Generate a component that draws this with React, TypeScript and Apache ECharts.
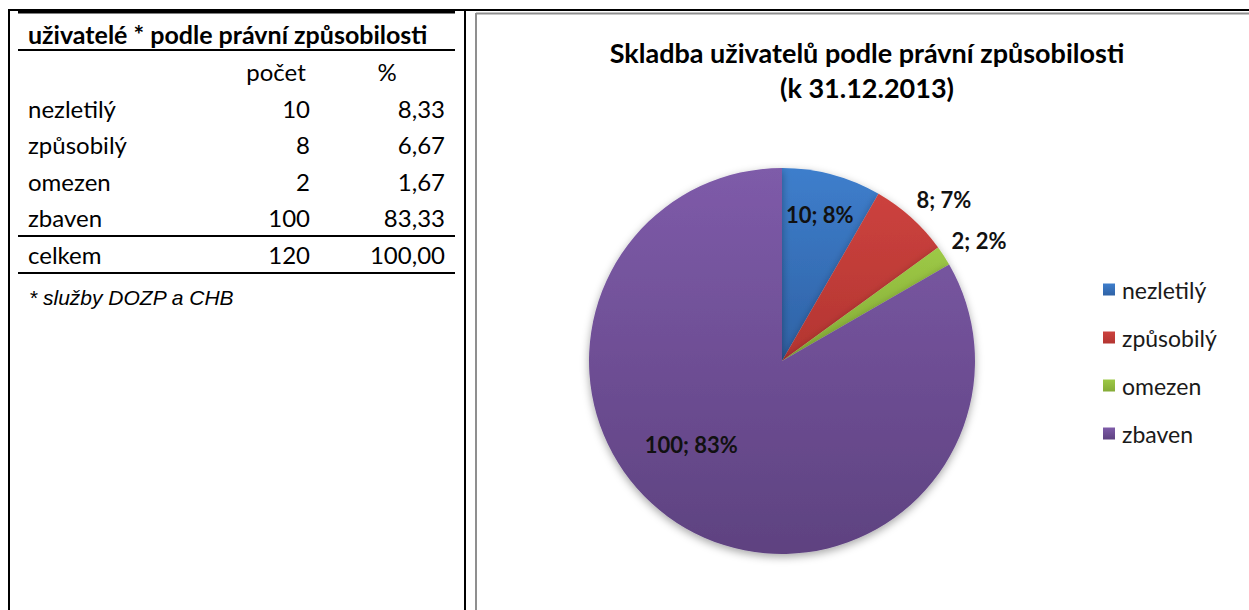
import React, { useEffect, useRef } from "react";
import * as echarts from "echarts";

const categories = ["nezletilý", "způsobilý", "omezen", "zbaven"];
const counts = [10, 8, 2, 100];
const percents = ["8,33", "6,67", "1,67", "83,33"];
const totalLabel = "celkem";
const totalCount = "120";
const totalPercent = "100,00";
const tableTitle = "uživatelé * podle právní způsobilosti";
const colHeaders = ["počet", "%"];
const footnote = "* služby DOZP a CHB";
const chartTitle = "Skladba uživatelů podle právní způsobilosti";
const chartSubtitle = "(k 31.12.2013)";

const colorsTop = ["#3E7ECC", "#CC423E", "#9DC946", "#7E5BA9"];
const colorsBottom = ["#2F62A5", "#B33531", "#85AB37", "#5E4280"];

const FONT = "Lato, 'Open Sans', sans-serif";

function grad(i: number) {
  return new echarts.graphic.LinearGradient(0, 0, 0, 1, [
    { offset: 0, color: colorsTop[i] },
    { offset: 1, color: colorsBottom[i] },
  ]);
}

export default function App() {
  const ref = useRef<HTMLDivElement>(null);
  useEffect(() => {
    if (!ref.current) return;
    const chart = echarts.init(ref.current, undefined, { renderer: "svg" });

    const rowY = [108, 144, 181, 217];
    const tableText: any[] = [];
    const txt = (text: string, x: number, y: number, align: string, extra: any = {}) => ({
      type: "text",
      x,
      y,
      style: {
        text,
        fill: "#000",
        font: `24px ${FONT}`,
        textAlign: align,
        textVerticalAlign: "middle",
        ...extra,
      },
    });
    tableText.push(txt(tableTitle, 28, 34, "left", { font: `bold 25px ${FONT}` }));
    tableText.push(txt(colHeaders[0], 276, 71, "center"));
    tableText.push(txt(colHeaders[1], 387, 71, "center"));
    categories.forEach((c, i) => {
      tableText.push(txt(c, 28, rowY[i], "left"));
      tableText.push(txt(String(counts[i]), 310, rowY[i], "right"));
      tableText.push(txt(percents[i], 445, rowY[i], "right"));
    });
    tableText.push(txt(totalLabel, 28, 254, "left"));
    tableText.push(txt(totalCount, 310, 254, "right"));
    tableText.push(txt(totalPercent, 445, 254, "right"));
    tableText.push(
      txt(footnote, 29, 297, "left", {
        font: `italic 21px 'Liberation Sans', Arial, sans-serif`,
      })
    );

    const hline = (x1: number, x2: number, y: number, w: number, c = "#000") => ({
      type: "line",
      shape: { x1, y1: y, x2, y2: y },
      style: { stroke: c, lineWidth: w },
    });
    const vline = (x: number, y1: number, y2: number, w: number, c = "#000") => ({
      type: "line",
      shape: { x1: x, y1, x2: x, y2 },
      style: { stroke: c, lineWidth: w },
    });

    const lines = [
      hline(8, 1249, 10, 2),
      hline(18, 455, 12, 3),
      vline(9, 10, 610, 2),
      vline(465, 10, 610, 2),
      hline(476, 1249, 13.5, 2, "#8f8f8f"),
      vline(476, 13, 610, 2, "#8f8f8f"),
      hline(18, 455, 50, 2),
      hline(18, 455, 236, 2),
      hline(18, 455, 273, 2),
    ];

    const data = categories.map((name, i) => ({
      name,
      value: counts[i],
      itemStyle: { color: grad(i) },
      label: { position: i === 0 || i === 3 ? "inside" : "outside" },
    }));

    chart.setOption({
      animation: false,
      backgroundColor: "#fff",
      title: {
        text: chartTitle + "\n" + chartSubtitle,
        left: 862,
        top: 30,
        textAlign: "center",
        textStyle: {
          fontFamily: FONT,
          fontWeight: "bold",
          fontSize: 27,
          lineHeight: 35,
          color: "#000",
        },
      },
      legend: {
        orient: "vertical",
        left: 1098,
        top: 273,
        itemWidth: 12,
        itemHeight: 12,
        itemGap: 25,
        icon: "rect",
        textStyle: {
          fontFamily: FONT,
          fontSize: 23,
          lineHeight: 20,
          color: "#1a1a1a",
          padding: [0, 0, 0, 2],
        },
        data: categories,
      },
      graphic: [...lines, ...tableText],
      series: [
        {
          type: "pie",
          center: [782, 361],
          radius: 193,
          startAngle: 90,
          clockwise: true,
          percentPrecision: 0,
          silent: true,
          itemStyle: {
            shadowBlur: 8,
            shadowOffsetY: 3,
            shadowColor: "rgba(0,0,0,0.35)",
          },
          label: {
            formatter: "{c}; {d}%",
            fontFamily: FONT,
            fontWeight: "bold",
            fontSize: 22,
            color: "#111",
          },
          labelLine: { show: false, length: 8, length2: 0 },
          data,
          labelLayout: (p: any) => {
            if (p.dataIndex === 0) return { dx: 12, dy: -50 };
            if (p.dataIndex === 3) return { dx: -41, dy: -3 };
            if (p.dataIndex === 1) return { dx: -5, dy: -12 };
            if (p.dataIndex === 2) return { dx: -4, dy: -11 };
            return {};
          },
        },
      ],
    });
    return () => chart.dispose();
  }, []);
  return (
    <div
      ref={ref}
      style={{ position: "fixed", left: 0, top: 0, width: 1249, height: 610 }}
    />
  );
}
